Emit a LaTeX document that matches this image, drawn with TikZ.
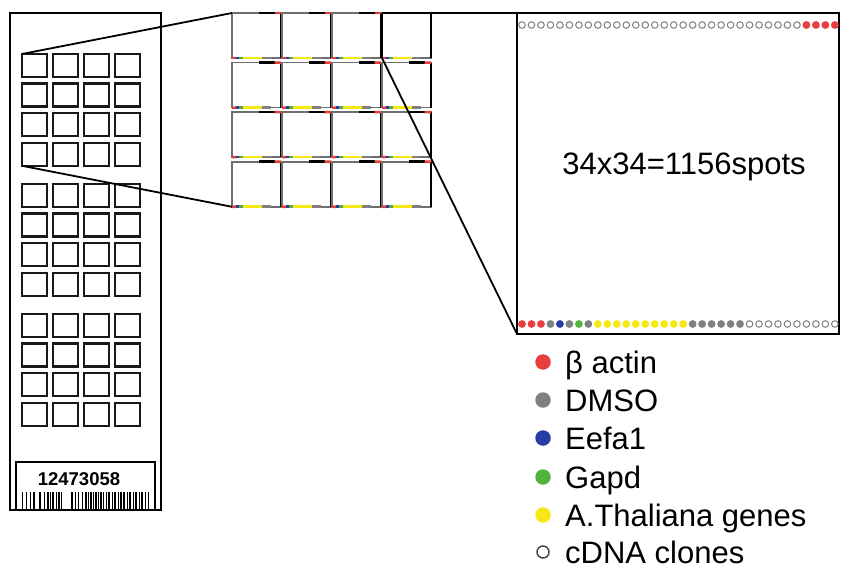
\documentclass[tikz,border=0pt]{standalone}
\usepackage{fontspec}
\setmainfont{Liberation Sans}
\usetikzlibrary{calc}
\definecolor{spred}{RGB}{232,62,62}
\definecolor{spgray}{RGB}{128,128,128}
\definecolor{spblue}{RGB}{40,60,165}
\definecolor{spgreen}{RGB}{80,180,60}
\definecolor{spyellow}{RGB}{245,232,20}
\definecolor{edgegray}{RGB}{110,110,110}
\begin{document}
\begin{tikzpicture}[x=1pt,y=-1pt,
  box/.style={draw, inner sep=0pt, outer sep=0pt, anchor=north west},
  slidebox/.style={box, line width=2.4pt, minimum width=151pt, minimum height=497pt},
  sq/.style={box, line width=2.4pt, draw=black!90, minimum width=25pt, minimum height=23pt},
  cellbox/.style={box, line width=1.6pt, draw=edgegray, minimum width=49pt, minimum height=45pt},
  zoombox/.style={box, line width=2.2pt, minimum width=322pt, minimum height=321pt},
  conn/.style={draw, line width=1.8pt},
  seg/.style={line width=2.6pt},
  legdot/.style={circle, inner sep=0pt, minimum size=15.5pt},
  legtext/.style={anchor=base west, inner sep=0pt, font=\fontsize{31}{36}\selectfont},
]
\useasboundingbox (0,0) rectangle (842,569);

% slide
\node[slidebox] (slide) at (10,13) {};
\foreach \g in {0,1,2}
  \foreach \r in {0,...,3}
    \foreach \c in {0,...,3}
      \node[sq] (sq-\g-\r-\c) at ({22+31*\c},{54+130*\g+29.6*\r}) {};

% barcode label
\node[box, line width=1.6pt, minimum width=139pt, minimum height=48pt] (bc) at (16,462) {};
\node[inner sep=0pt, font=\bfseries\fontsize{18.5}{21}\selectfont] (bcnum) at (79,479) {12473058};
\foreach \x/\w in {22/1,26/1,30/1,34/1.2,40/2.2,44/1,48/1.3,50.5/1,53/1.4,56/1,59/1.3,61.5/1,
                   72/2.2,75.5/1,78.5/1.2,82/1,86/1.4,88.5/1,91/1.2,93.5/1,96/1.4,98.5/1,101/1.2,
                   103.5/1.4,106/1,109/1.3,112/1,115/1.4,118/1,121/1.2,124/1.4,127/1,130/1.3,
                   133/1,136/1.4,139/1,142/1.2,145/1,148/1}
  \draw[line width=\w pt] (\x,492) -- (\x,509);

% middle grid of subarrays
\foreach \r in {1,...,4}
  \foreach \c in {1,...,4} {
    \node[cellbox] (cell-\r-\c) at ({232+50*(\c-1)},{13+49.6*(\r-1)}) {};
    \draw[line width=1.6pt] (cell-\r-\c.north east) -- (cell-\r-\c.south east);
    \draw[seg, black] ($(cell-\r-\c.north west)!0.55!(cell-\r-\c.north east)$) -- ($(cell-\r-\c.north west)!0.87!(cell-\r-\c.north east)$);
    \draw[seg, spred] ($(cell-\r-\c.north west)!0.87!(cell-\r-\c.north east)$) -- (cell-\r-\c.north east);
    \draw[seg, spred] (cell-\r-\c.south west) -- ($(cell-\r-\c.south west)!0.09!(cell-\r-\c.south east)$);
    \draw[seg, spblue] ($(cell-\r-\c.south west)!0.09!(cell-\r-\c.south east)$) -- ($(cell-\r-\c.south west)!0.15!(cell-\r-\c.south east)$);
    \draw[seg, spgreen!70!spgray] ($(cell-\r-\c.south west)!0.15!(cell-\r-\c.south east)$) -- ($(cell-\r-\c.south west)!0.23!(cell-\r-\c.south east)$);
    \draw[seg, spyellow] ($(cell-\r-\c.south west)!0.23!(cell-\r-\c.south east)$) -- ($(cell-\r-\c.south west)!0.62!(cell-\r-\c.south east)$);
    \draw[seg, spgray] ($(cell-\r-\c.south west)!0.62!(cell-\r-\c.south east)$) -- ($(cell-\r-\c.south west)!0.8!(cell-\r-\c.south east)$);
  }

% zoomed subarray
\node[zoombox] (zoom) at (517,13) {};
\node[inner sep=0pt, font=\fontsize{31}{36}\selectfont] (spots) at (684,167) {34x34=1156spots};

% top row of spots: 30 hollow, 4 red
\foreach \i in {0,...,33} {
  \ifnum\i<30
    \draw[spgray, line width=1pt] ({522+9.48*\i},25) circle (3.3pt);
  \else
    \fill[spred] ({522+9.48*\i},25) circle (3.9pt);
  \fi
}
% bottom row of spots
\def\nonetok{none}
\foreach \col [count=\n from 0] in {spred,spred,spred,spgray,spblue,spgray,spgreen,spgray,
    spyellow,spyellow,spyellow,spyellow,spyellow,spyellow,spyellow,spyellow,spyellow,spyellow,
    spgray,spgray,spgray,spgray,spgray,spgray,
    none,none,none,none,none,none,none,none,none,none} {
  \ifx\col\nonetok
    \draw[spgray, line width=1pt] ({522+9.48*\n},324) circle (3.3pt);
  \else
    \fill[\col] ({522+9.48*\n},324) circle (3.9pt);
  \fi
}

% connectors
\draw[conn] (sq-0-0-0.north west) -- (cell-1-1.north west);
\draw[conn] (sq-0-3-0.south west) -- (cell-4-1.south west);
\draw[conn] (cell-1-4.north west) -- (zoom.north west);
\draw[conn] (cell-1-4.north west) -- (cell-1-4.south west);
\draw[conn] (cell-1-4.south west) -- (zoom.south west);

% legend
\node[legdot, fill=spred] (d1) at (543,362) {};
\node[legdot, fill=spgray] (d2) at (543,400) {};
\node[legdot, fill=spblue] (d3) at (543,438) {};
\node[legdot, fill=spgreen] (d4) at (543,477) {};
\node[legdot, fill=spyellow] (d5) at (543,515) {};
\node[circle, inner sep=0pt, minimum size=12pt, draw=black!75, line width=1.4pt] (d6) at (543,552) {};
\node[legtext] (t1) at (565,373.5) {β actin};
\node[legtext] (t2) at (565,411.5) {DMSO};
\node[legtext] (t3) at (565,449.5) {Eefa1};
\node[legtext] (t4) at (565,488) {Gapd};
\node[legtext] (t5) at (565,526) {A.Thaliana genes};
\node[legtext] (t6) at (565,563) {cDNA clones};
\end{tikzpicture}
\end{document}
